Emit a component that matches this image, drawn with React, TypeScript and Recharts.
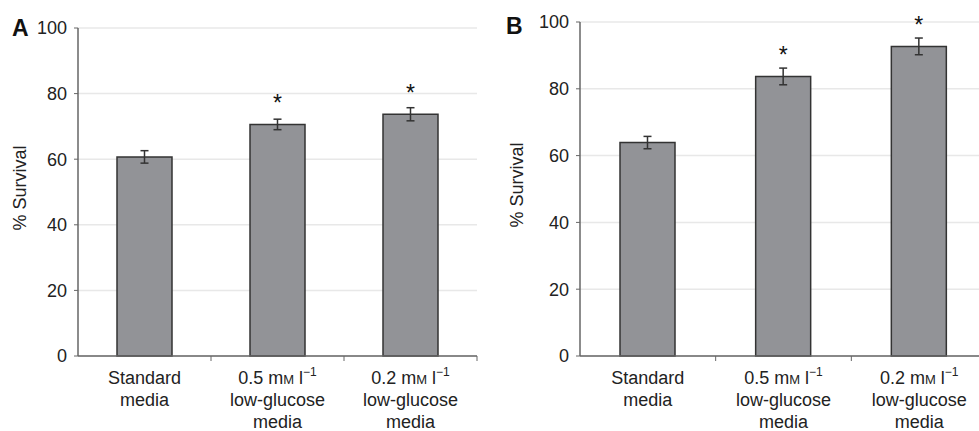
import React from "react";
import { BarChart, Bar, XAxis, YAxis, CartesianGrid, ErrorBar, LabelList } from "recharts";

const categories = ["Standard media", "0.5 mM l−1 low-glucose media", "0.2 mM l−1 low-glucose media"];
const survivalA = [60.7, 70.6, 73.7];
const errorA = [1.9, 1.6, 2.0];
const survivalB = [63.9, 83.7, 92.7];
const errorB = [1.85, 2.5, 2.5];
const significance = ["", "*", "*"];
const yTicks = [0, 20, 40, 60, 80, 100];

const FONT = "'Liberation Sans', Arial, Helvetica, sans-serif";
const TEXT = "#222";
const AXIS = "#666";

const dataA = categories.map((name, i) => ({ name, value: survivalA[i], err: errorA[i], sig: significance[i] }));
const dataB = categories.map((name, i) => ({ name, value: survivalB[i], err: errorB[i], sig: significance[i] }));

// multi-line category label with a tick mark on the right band edge
const CategoryTick = (props: any) => {
  const { x, y, payload } = props;
  const half = payload && payload.offset ? payload.offset : 0;
  const v: string = payload.value;
  const lines: React.ReactNode[] = [];
  if (v.includes("mM")) {
    const conc = v.split(" ")[0];
    lines.push(
      <>
        {conc} m<tspan fontSize={13}>M</tspan> l<tspan fontSize={12} dy={-8}>−1</tspan>
      </>
    );
    lines.push("low-glucose");
    lines.push("media");
  } else {
    v.split(" ").forEach((w) => lines.push(w));
  }
  return (
    <g>
      <line x1={x + half} x2={x + half} y1={y} y2={y + 5} stroke={AXIS} strokeWidth={1} />
      {lines.map((ln, i) => (
        <text key={i} x={x} y={y + 28 + i * 22} textAnchor="middle" fontSize={18} fill={TEXT} fontFamily={FONT}>
          {ln}
        </text>
      ))}
    </g>
  );
};

const yLabel = (cx: number) => (p: any) => {
  const vb = p.viewBox || {};
  const cy = vb.y + vb.height / 2 - 4;
  return (
    <text x={cx} y={cy} transform={`rotate(-90, ${cx}, ${cy})`} textAnchor="middle" dominantBaseline="central" fontSize={18} fill={TEXT} fontFamily={FONT}>
      % Survival
    </text>
  );
};

type PanelProps = {
  data: any[];
  width: number;
  top: number;
  axisWidth: number;
  labelX: number;
};

const Panel = ({ data, width, top, axisWidth, labelX }: PanelProps) => (
  <BarChart width={width} height={431} data={data} margin={{ top, right: 13, left: 0, bottom: 0 }} barCategoryGap={0}>
    <CartesianGrid vertical={false} stroke="#e8e8e8" strokeWidth={1.5} />
    <XAxis
      dataKey="name"
      height={75}
      interval={0}
      tickSize={0}
      tickMargin={0}
      axisLine={{ stroke: AXIS, strokeWidth: 1.5 }}
      tick={<CategoryTick />}
    />
    <YAxis
      width={axisWidth}
      domain={[0, 100]}
      ticks={yTicks}
      interval={0}
      tickSize={4}
      tickMargin={7}
      axisLine={{ stroke: AXIS, strokeWidth: 1.5 }}
      tickLine={{ stroke: AXIS }}
      tick={{ fill: TEXT, fontSize: 18, fontFamily: FONT }}
      label={yLabel(labelX)}
    />
    <Bar dataKey="value" fill="#929397" stroke="#333" strokeWidth={1.5} barSize={55} isAnimationActive={false}>
      <ErrorBar dataKey="err" width={4} stroke="#333" strokeWidth={1.5} direction="y" />
      <LabelList dataKey="sig" position="top" offset={13} fill="#111" fontSize={23} fontFamily={FONT} />
    </Bar>
  </BarChart>
);

const letterStyle: React.CSSProperties = {
  position: "absolute",
  fontFamily: FONT,
  fontWeight: "bold",
  fontSize: 23,
  lineHeight: "23px",
  color: "#111",
};

export default function App() {
  return (
    <div style={{ position: "absolute", left: 0, top: 0, width: 979, height: 431, overflow: "hidden", background: "#fff" }}>
      <div style={{ position: "absolute", left: 0, top: 0 }}>
        <Panel data={dataA} width={490} top={28} axisWidth={78} labelX={20} />
      </div>
      <div style={{ position: "absolute", left: 490, top: 0 }}>
        <Panel data={dataB} width={510} top={22} axisWidth={90} labelX={27} />
      </div>
      <div style={{ ...letterStyle, left: 12, top: 17 }}>A</div>
      <div style={{ ...letterStyle, left: 506, top: 15 }}>B</div>
    </div>
  );
}
